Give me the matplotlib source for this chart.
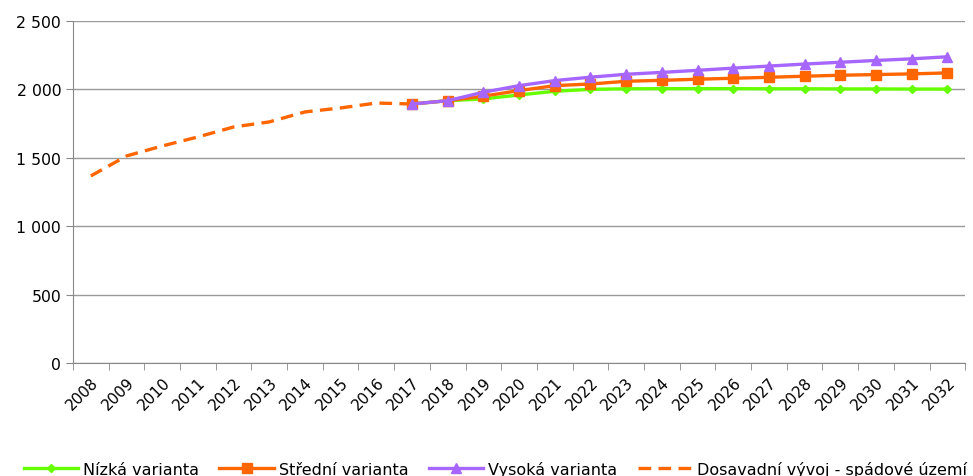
import matplotlib.pyplot as plt
import numpy as np

years = [str(y) for y in range(2008, 2033)]
hist_years = list(range(2008, 2018))
hist_vals = [1367, 1513, 1586, 1652, 1725, 1762, 1835, 1864, 1900, 1893]
proj_years = list(range(2017, 2033))
nizka = [1893, 1917, 1930, 1959, 1986, 2000, 2004, 2005, 2005, 2005, 2004, 2004, 2003, 2003, 2002, 2002]
stredni = [1893, 1917, 1950, 1991, 2027, 2039, 2059, 2066, 2074, 2081, 2088, 2096, 2103, 2108, 2113, 2120]
vysoka = [1893, 1917, 1979, 2027, 2064, 2089, 2110, 2124, 2139, 2155, 2170, 2185, 2198, 2211, 2223, 2238]

labels = ['Nízká varianta', 'Střední varianta', 'Vysoká varianta', 'Dosavadní vývoj - spádové území']

plt.rcParams['font.family'] = ['DejaVu Sans']
fig = plt.figure(figsize=(9.73, 4.77), dpi=100)
ax = fig.add_axes([0.075, 0.237, 0.917, 0.717])

xh = [y - 2008 for y in hist_years]
xp = [y - 2008 for y in proj_years]

ax.plot(xh, hist_vals, color='#FF6600', lw=2.4, ls=(0, (3.8, 2.2)), label=labels[3], zorder=2)
ax.plot(xp, nizka, color='#66FF00', lw=2.4, marker='D', ms=4.5, label=labels[0], zorder=3)
ax.plot(xp, stredni, color='#FF6600', lw=2.4, marker='s', ms=7, label=labels[1], zorder=4)
ax.plot(xp, vysoka, color='#A666FF', lw=2.4, marker='^', ms=7.5, label=labels[2], zorder=5)

ax.set_xlim(-0.5, 24.5)
ax.set_ylim(0, 2500)
ax.set_yticks(np.arange(0, 2501, 500))
ax.set_yticklabels([f'{v:,}'.replace(',', ' ') for v in range(0, 2501, 500)], fontsize=11.3)
ax.set_xticks(range(len(years)))
ax.set_xticklabels(years, rotation=45, ha='right', rotation_mode='anchor', fontsize=11)
ax.set_xticks(np.arange(-0.5, 25, 1), minor=True)
ax.tick_params(axis='x', which='major', length=0, pad=8)
ax.tick_params(axis='x', which='minor', length=5, color='#888888')
ax.tick_params(axis='y', length=5, color='#888888')
ax.yaxis.grid(True, color='#999999', lw=1)
ax.set_axisbelow(True)
for s in ['top', 'right']:
    ax.spines[s].set_visible(False)
for s in ['left', 'bottom']:
    ax.spines[s].set_color('#888888')

h, l = ax.get_legend_handles_labels()
order = [1, 2, 3, 0]
fig.legend([h[i] for i in order], [l[i] for i in order], loc='center', bbox_to_anchor=(0.509, 0.015),
           ncol=4, frameon=False, fontsize=11.5, handlelength=3.4, handletextpad=0.3,
           columnspacing=1.3)

fig.savefig('out.png', dpi=100)
